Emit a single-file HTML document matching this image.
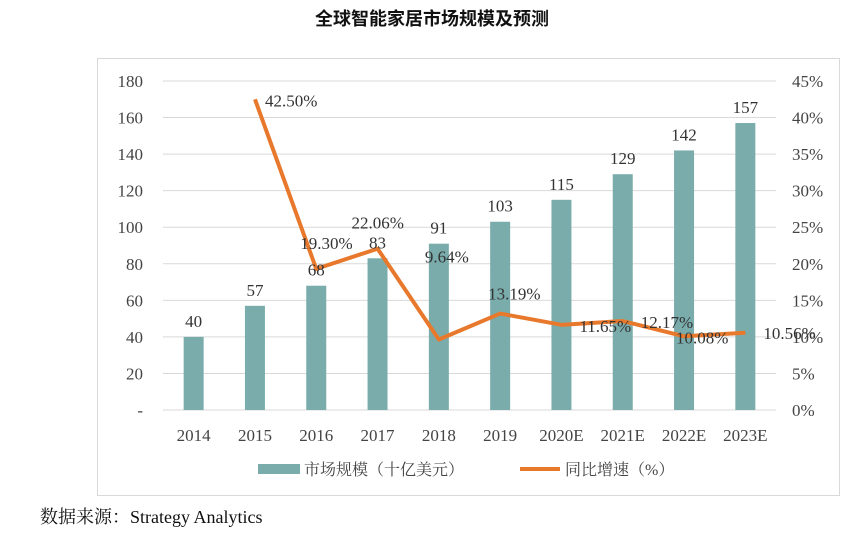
<!DOCTYPE html>
<html><head><meta charset="utf-8"><style>
body{margin:0;background:#fff;width:865px;height:544px;overflow:hidden}
svg text{font-family:"Liberation Serif","Noto Serif CJK SC",serif}
</style></head><body>
<svg width="865" height="544" xmlns="http://www.w3.org/2000/svg">
<text x="432" y="25" text-anchor="middle" font-size="18" font-weight="bold" fill="#111" style="font-family:'Noto Sans CJK SC',sans-serif">全球智能家居市场规模及预测</text>
<rect x="97.5" y="58.5" width="742" height="437" fill="none" stroke="#d9d9d9"/>
<g id="grid"></g><g id="bars"></g><g id="line"></g><g id="labels"></g>
<g>
<rect x="258" y="464" width="42" height="10" fill="#7aacac"/>
<text x="304" y="475" font-size="16" fill="#444">市场规模（十亿美元）</text>
<line x1="520" y1="469" x2="560" y2="469" stroke="#e8792c" stroke-width="4"/>
<text x="565" y="475" font-size="16" fill="#444">同比增速（%）</text>
</g>
<text x="40" y="523" font-size="18" fill="#111">数据来源：Strategy Analytics</text>
</svg>
<script>
const categories=["2014","2015","2016","2017","2018","2019","2020E","2021E","2022E","2023E"];
const marketSize=[40,57,68,83,91,103,115,129,142,157];
const growth=[null,42.50,19.30,22.06,9.64,13.19,11.65,12.17,10.08,10.56];
const leftTicks=[0,20,40,60,80,100,120,140,160,180];
const rightTicks=[0,5,10,15,20,25,30,35,40,45];
const NS="http://www.w3.org/2000/svg";
const x0=163,x1=776,yB=410,yT=81;
const step=(x1-x0)/categories.length;
const xc=i=>x0+step*(i+0.5);
const yL=v=>yB-(v/180)*(yB-yT);
const yR=v=>yB-(v/45)*(yB-yT);
const ldx=[0,10,-16,-26,-14,-12,18,18,-8,18];
const ldy=[0,7,-20,-20,-77,-14,7,7,7,6];
function mk(t,a,p){const e=document.createElementNS(NS,t);for(const k in a)e.setAttribute(k,a[k]);p.appendChild(e);return e;}
const g=document.getElementById('grid'),b=document.getElementById('bars'),l=document.getElementById('line'),lb=document.getElementById('labels');
leftTicks.forEach(v=>{
 const ln=mk('line',{x1:x0,x2:x1,y1:yL(v),y2:yL(v),stroke:'#d9d9d9'},g);
 
 
 const t=mk('text',{x:143,y:yL(v)+6,'text-anchor':'end','font-size':17,fill:'#444'},g);t.textContent=v===0?'-':v;
 
 
});
rightTicks.forEach(v=>{
 const t=mk('text',{x:792,y:yR(v)+6,'font-size':17,fill:'#444'},g);t.textContent=v+'%';
 
 
});
categories.forEach((c,i)=>{
 const t=mk('text',{x:xc(i),y:441,'text-anchor':'middle','font-size':17,fill:'#444'},g);t.textContent=c;
 
 
 const r=mk('rect',{x:xc(i)-10,y:yL(marketSize[i]),width:20,height:yB-yL(marketSize[i]),fill:'#7aacac'},b);
 
 
 const v=mk('text',{x:xc(i),y:yL(marketSize[i])-10,'text-anchor':'middle','font-size':17,fill:'#333'},lb);v.textContent=marketSize[i];
 
 
});
let pts=[];
growth.forEach((v,i)=>{if(v!==null){pts.push(xc(i)+','+yR(v));
 const t=mk('text',{x:xc(i)+ldx[i],y:yR(v)+ldy[i],'font-size':17,fill:'#333'},lb);
 t.textContent=v.toFixed(2)+'%';
 
 
}});
const pl=mk('polyline',{points:pts.join(' '),fill:'none',stroke:'#e8792c','stroke-width':4,'stroke-linejoin':'round'},l);


</script>
</body></html>
